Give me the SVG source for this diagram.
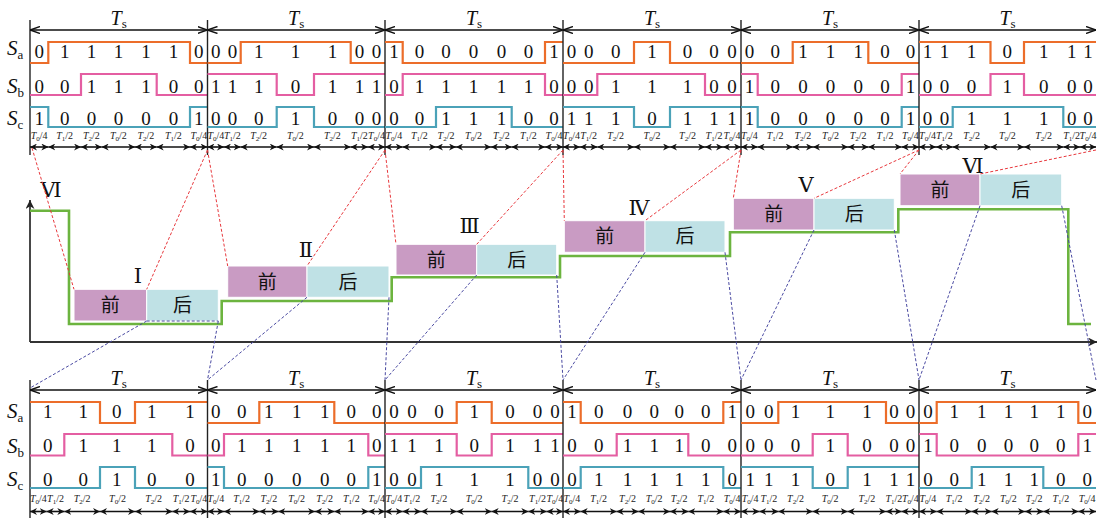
<svg xmlns="http://www.w3.org/2000/svg" width="1098" height="520" viewBox="0 0 1098 520">
<style>
.bg{fill:#fff}
.vl{stroke:#222;stroke-width:1.4}
.ax{stroke:#333;stroke-width:1.8;fill:none}
.sa{stroke:#ec6d2a;stroke-width:2.2;fill:none}
.sb{stroke:#e45ea2;stroke-width:2.2;fill:none}
.sc{stroke:#4ba2b8;stroke-width:2.2;fill:none}
.gr{stroke:#6cb43f;stroke-width:2.6;fill:none}
.tsa{stroke:#111;stroke-width:1.3;marker-start:url(#oa);marker-end:url(#oa)}
.ta{stroke:#111;stroke-width:1.6;marker-start:url(#fa);marker-end:url(#fa)}
.d{font-family:"Liberation Serif",serif;font-size:19px;text-anchor:middle;fill:#111}
.lab{font-family:"Liberation Serif",serif;font-size:21px;fill:#111}
.ts{font-family:"Liberation Serif",serif;font-size:20px;text-anchor:middle;fill:#111}
.tl{font-family:"Liberation Serif",serif;font-size:10px;text-anchor:middle;fill:#222}
.i{font-style:italic}
.sub{font-size:13px}
.sb7{font-size:7px}
.rn{font-family:"Liberation Serif","DejaVu Serif",serif;font-size:21px;text-anchor:middle;fill:#111}
.qian{fill:#c99bc3;stroke:#fff;stroke-width:1}
.hou{fill:#bfe1e5;stroke:#fff;stroke-width:1}
.cj{font-family:"Noto Sans CJK SC",sans-serif;font-size:19px;text-anchor:middle;fill:#111}
.red{stroke:#e8383d;stroke-width:1;stroke-dasharray:3 2;fill:none}
.blu{stroke:#4a4aa2;stroke-width:1;stroke-dasharray:3 2;fill:none}
</style>
<defs>
<marker id="oa" viewBox="0 0 10 8" refX="10" refY="4" markerWidth="10" markerHeight="8" orient="auto-start-reverse" markerUnits="userSpaceOnUse"><path d="M0,0.5 L10,4 L0,7.5" fill="none" stroke="#111" stroke-width="1.4"/></marker>
<marker id="fa" viewBox="0 0 8 8" refX="8" refY="4" markerWidth="7" markerHeight="7" orient="auto-start-reverse" markerUnits="userSpaceOnUse"><path d="M0,0 L8,4 L0,8 L2.5,4 z" fill="#111"/></marker>
<marker id="axa" viewBox="0 0 8 8" refX="8" refY="4" markerWidth="9" markerHeight="9" orient="auto" markerUnits="userSpaceOnUse"><path d="M0,0 L8,4 L0,8 L2.5,4 z" fill="#222"/></marker>
</defs>
<rect class="bg" x="0" y="0" width="1098" height="520"/>

<g id="row-labels">
<text class="lab" x="7" y="55"><tspan class="i">S</tspan><tspan class="sub" dy="4">a</tspan></text>
<text class="lab" x="7" y="92.5"><tspan class="i">S</tspan><tspan class="sub" dy="4">b</tspan></text>
<text class="lab" x="7" y="124.5"><tspan class="i">S</tspan><tspan class="sub" dy="4">c</tspan></text>
<text class="lab" x="7" y="418"><tspan class="i">S</tspan><tspan class="sub" dy="4">a</tspan></text>
<text class="lab" x="7" y="452.5"><tspan class="i">S</tspan><tspan class="sub" dy="4">b</tspan></text>
<text class="lab" x="7" y="486"><tspan class="i">S</tspan><tspan class="sub" dy="4">c</tspan></text>
</g>

<g id="top-p1">
<line class="vl" x1="30" y1="20" x2="30" y2="155"/>
<line class="tsa" x1="30" y1="30" x2="207.5" y2="30"/>
<text class="ts" x="118.7" y="25"><tspan class="i">T</tspan><tspan class="sub" dy="3">s</tspan></text>
<path class="sa" d="M30 63 H48.3 V42 H190 V63 H207.5"/>
<path class="sb" d="M30 95 H81 V74 H156.7 V95 H207.5"/>
<path class="sc" d="M30 107 H48.3 V127 H190 V107 H207.5"/>
<g class="d">
<text x="39.2" y="58">0</text><text x="64.7" y="58">1</text><text x="91.4" y="58">1</text><text x="118.4" y="58">1</text><text x="145.9" y="58">1</text><text x="173.4" y="58">1</text><text x="198.8" y="58">0</text>
<text x="39.2" y="92.5">0</text><text x="64.7" y="92.5">0</text><text x="91.4" y="92.5">1</text><text x="118.4" y="92.5">1</text><text x="145.9" y="92.5">1</text><text x="173.4" y="92.5">0</text><text x="198.8" y="92.5">0</text>
<text x="39.2" y="124.5">1</text><text x="64.7" y="124.5">0</text><text x="91.4" y="124.5">0</text><text x="118.4" y="124.5">0</text><text x="145.9" y="124.5">0</text><text x="173.4" y="124.5">0</text><text x="198.8" y="124.5">1</text>
</g>
<g class="tl">
<text x="39.2" y="139"><tspan class="i">T</tspan><tspan class="sb7" dy="2">0</tspan><tspan dy="-2">/4</tspan></text>
<text x="64.7" y="139"><tspan class="i">T</tspan><tspan class="sb7" dy="2">1</tspan><tspan dy="-2">/2</tspan></text>
<text x="91.4" y="139"><tspan class="i">T</tspan><tspan class="sb7" dy="2">2</tspan><tspan dy="-2">/2</tspan></text>
<text x="118.4" y="139"><tspan class="i">T</tspan><tspan class="sb7" dy="2">0</tspan><tspan dy="-2">/2</tspan></text>
<text x="145.9" y="139"><tspan class="i">T</tspan><tspan class="sb7" dy="2">2</tspan><tspan dy="-2">/2</tspan></text>
<text x="173.4" y="139"><tspan class="i">T</tspan><tspan class="sb7" dy="2">1</tspan><tspan dy="-2">/2</tspan></text>
<text x="198.8" y="139"><tspan class="i">T</tspan><tspan class="sb7" dy="2">0</tspan><tspan dy="-2">/4</tspan></text>
</g>
<line class="ta" x1="30" y1="147" x2="48.3" y2="147"/><line class="ta" x1="48.3" y1="147" x2="81" y2="147"/><line class="ta" x1="81" y1="147" x2="101.7" y2="147"/><line class="ta" x1="101.7" y1="147" x2="135" y2="147"/><line class="ta" x1="135" y1="147" x2="156.7" y2="147"/><line class="ta" x1="156.7" y1="147" x2="190" y2="147"/><line class="ta" x1="190" y1="147" x2="207.5" y2="147"/>
</g>

<g id="top-p2">
<line class="vl" x1="207.5" y1="20" x2="207.5" y2="155"/>
<line class="tsa" x1="207.5" y1="30" x2="385" y2="30"/>
<text class="ts" x="296.2" y="25"><tspan class="i">T</tspan><tspan class="sub" dy="3">s</tspan></text>
<path class="sa" d="M207.5 63 H240.7 V42 H350.7 V63 H385"/>
<path class="sb" d="M207.5 74 H276.7 V95 H314 V74 H385"/>
<path class="sc" d="M207.5 127 H276.7 V107 H314 V127 H385"/>
<g class="d">
<text x="215.8" y="58">0</text><text x="232.4" y="58">0</text><text x="258.7" y="58">1</text><text x="295.4" y="58">1</text><text x="332.4" y="58">1</text><text x="359.4" y="58">0</text><text x="376.5" y="58">0</text>
<text x="215.8" y="92.5">1</text><text x="232.4" y="92.5">1</text><text x="258.7" y="92.5">1</text><text x="295.4" y="92.5">0</text><text x="332.4" y="92.5">1</text><text x="359.4" y="92.5">1</text><text x="376.5" y="92.5">1</text>
<text x="215.8" y="124.5">0</text><text x="232.4" y="124.5">0</text><text x="258.7" y="124.5">0</text><text x="295.4" y="124.5">1</text><text x="332.4" y="124.5">0</text><text x="359.4" y="124.5">0</text><text x="376.5" y="124.5">0</text>
</g>
<g class="tl">
<text x="215.8" y="139"><tspan class="i">T</tspan><tspan class="sb7" dy="2">0</tspan><tspan dy="-2">/4</tspan></text>
<text x="232.4" y="139"><tspan class="i">T</tspan><tspan class="sb7" dy="2">1</tspan><tspan dy="-2">/2</tspan></text>
<text x="258.7" y="139"><tspan class="i">T</tspan><tspan class="sb7" dy="2">2</tspan><tspan dy="-2">/2</tspan></text>
<text x="295.4" y="139"><tspan class="i">T</tspan><tspan class="sb7" dy="2">0</tspan><tspan dy="-2">/2</tspan></text>
<text x="332.4" y="139"><tspan class="i">T</tspan><tspan class="sb7" dy="2">2</tspan><tspan dy="-2">/2</tspan></text>
<text x="359.4" y="139"><tspan class="i">T</tspan><tspan class="sb7" dy="2">1</tspan><tspan dy="-2">/2</tspan></text>
<text x="376.5" y="139"><tspan class="i">T</tspan><tspan class="sb7" dy="2">0</tspan><tspan dy="-2">/4</tspan></text>
</g>
<line class="ta" x1="207.5" y1="147" x2="224" y2="147"/><line class="ta" x1="224" y1="147" x2="240.7" y2="147"/><line class="ta" x1="240.7" y1="147" x2="276.7" y2="147"/><line class="ta" x1="276.7" y1="147" x2="314" y2="147"/><line class="ta" x1="314" y1="147" x2="350.7" y2="147"/><line class="ta" x1="350.7" y1="147" x2="368" y2="147"/><line class="ta" x1="368" y1="147" x2="385" y2="147"/>
</g>

<g id="top-p3">
<line class="vl" x1="385" y1="20" x2="385" y2="155"/>
<line class="tsa" x1="385" y1="30" x2="563" y2="30"/>
<text class="ts" x="474" y="25"><tspan class="i">T</tspan><tspan class="sub" dy="3">s</tspan></text>
<path class="sa" d="M385 42 H402.7 V63 H545 V42 H563"/>
<path class="sb" d="M385 95 H402.7 V74 H545 V95 H563"/>
<path class="sc" d="M385 127 H436 V107 H511.7 V127 H563"/>
<g class="d">
<text x="393.9" y="58">1</text><text x="419.4" y="58">0</text><text x="446" y="58">0</text><text x="473.5" y="58">0</text><text x="501.4" y="58">0</text><text x="528.4" y="58">0</text><text x="554" y="58">1</text>
<text x="393.9" y="92.5">0</text><text x="419.4" y="92.5">1</text><text x="446" y="92.5">1</text><text x="473.5" y="92.5">1</text><text x="501.4" y="92.5">1</text><text x="528.4" y="92.5">1</text><text x="554" y="92.5">0</text>
<text x="393.9" y="124.5">0</text><text x="419.4" y="124.5">0</text><text x="446" y="124.5">1</text><text x="473.5" y="124.5">1</text><text x="501.4" y="124.5">1</text><text x="528.4" y="124.5">0</text><text x="554" y="124.5">0</text>
</g>
<g class="tl">
<text x="393.9" y="139"><tspan class="i">T</tspan><tspan class="sb7" dy="2">0</tspan><tspan dy="-2">/4</tspan></text>
<text x="419.4" y="139"><tspan class="i">T</tspan><tspan class="sb7" dy="2">1</tspan><tspan dy="-2">/2</tspan></text>
<text x="446" y="139"><tspan class="i">T</tspan><tspan class="sb7" dy="2">2</tspan><tspan dy="-2">/2</tspan></text>
<text x="473.5" y="139"><tspan class="i">T</tspan><tspan class="sb7" dy="2">0</tspan><tspan dy="-2">/2</tspan></text>
<text x="501.4" y="139"><tspan class="i">T</tspan><tspan class="sb7" dy="2">2</tspan><tspan dy="-2">/2</tspan></text>
<text x="528.4" y="139"><tspan class="i">T</tspan><tspan class="sb7" dy="2">1</tspan><tspan dy="-2">/2</tspan></text>
<text x="554" y="139"><tspan class="i">T</tspan><tspan class="sb7" dy="2">0</tspan><tspan dy="-2">/4</tspan></text>
</g>
<line class="ta" x1="385" y1="147" x2="402.7" y2="147"/><line class="ta" x1="402.7" y1="147" x2="436" y2="147"/><line class="ta" x1="436" y1="147" x2="456" y2="147"/><line class="ta" x1="456" y1="147" x2="491" y2="147"/><line class="ta" x1="491" y1="147" x2="511.7" y2="147"/><line class="ta" x1="511.7" y1="147" x2="545" y2="147"/><line class="ta" x1="545" y1="147" x2="563" y2="147"/>
</g>

<g id="top-p4">
<line class="vl" x1="563" y1="20" x2="563" y2="155"/>
<line class="tsa" x1="563" y1="30" x2="741" y2="30"/>
<text class="ts" x="652" y="25"><tspan class="i">T</tspan><tspan class="sub" dy="3">s</tspan></text>
<path class="sa" d="M563 63 H634 V42 H670 V63 H741"/>
<path class="sb" d="M563 95 H597.3 V74 H705 V95 H741"/>
<path class="sc" d="M563 107 H634 V127 H670 V107 H741"/>
<g class="d">
<text x="571.5" y="58">0</text><text x="588.7" y="58">0</text><text x="615.7" y="58">0</text><text x="652" y="58">1</text><text x="687.5" y="58">0</text><text x="714" y="58">0</text><text x="732" y="58">0</text>
<text x="571.5" y="92.5">0</text><text x="588.7" y="92.5">0</text><text x="615.7" y="92.5">1</text><text x="652" y="92.5">1</text><text x="687.5" y="92.5">1</text><text x="714" y="92.5">0</text><text x="732" y="92.5">0</text>
<text x="571.5" y="124.5">1</text><text x="588.7" y="124.5">1</text><text x="615.7" y="124.5">1</text><text x="652" y="124.5">0</text><text x="687.5" y="124.5">1</text><text x="714" y="124.5">1</text><text x="732" y="124.5">1</text>
</g>
<g class="tl">
<text x="571.5" y="139"><tspan class="i">T</tspan><tspan class="sb7" dy="2">0</tspan><tspan dy="-2">/4</tspan></text>
<text x="588.7" y="139"><tspan class="i">T</tspan><tspan class="sb7" dy="2">1</tspan><tspan dy="-2">/2</tspan></text>
<text x="615.7" y="139"><tspan class="i">T</tspan><tspan class="sb7" dy="2">2</tspan><tspan dy="-2">/2</tspan></text>
<text x="652" y="139"><tspan class="i">T</tspan><tspan class="sb7" dy="2">0</tspan><tspan dy="-2">/2</tspan></text>
<text x="687.5" y="139"><tspan class="i">T</tspan><tspan class="sb7" dy="2">2</tspan><tspan dy="-2">/2</tspan></text>
<text x="714" y="139"><tspan class="i">T</tspan><tspan class="sb7" dy="2">1</tspan><tspan dy="-2">/2</tspan></text>
<text x="732" y="139"><tspan class="i">T</tspan><tspan class="sb7" dy="2">0</tspan><tspan dy="-2">/4</tspan></text>
</g>
<line class="ta" x1="563" y1="147" x2="580" y2="147"/><line class="ta" x1="580" y1="147" x2="597.3" y2="147"/><line class="ta" x1="597.3" y1="147" x2="634" y2="147"/><line class="ta" x1="634" y1="147" x2="670" y2="147"/><line class="ta" x1="670" y1="147" x2="705" y2="147"/><line class="ta" x1="705" y1="147" x2="723" y2="147"/><line class="ta" x1="723" y1="147" x2="741" y2="147"/>
</g>

<g id="top-p5">
<line class="vl" x1="741" y1="20" x2="741" y2="155"/>
<line class="tsa" x1="741" y1="30" x2="919" y2="30"/>
<text class="ts" x="830" y="25"><tspan class="i">T</tspan><tspan class="sub" dy="3">s</tspan></text>
<path class="sa" d="M741 63 H792.7 V42 H868.3 V63 H919"/>
<path class="sb" d="M741 74 H757.7 V95 H901.7 V74 H919"/>
<path class="sc" d="M741 107 H757.7 V127 H901.7 V107 H919"/>
<g class="d">
<text x="749.4" y="58">0</text><text x="775.2" y="58">0</text><text x="802.9" y="58">1</text><text x="830.5" y="58">1</text><text x="858.2" y="58">1</text><text x="885" y="58">0</text><text x="910.4" y="58">0</text>
<text x="749.4" y="92.5">1</text><text x="775.2" y="92.5">0</text><text x="802.9" y="92.5">0</text><text x="830.5" y="92.5">0</text><text x="858.2" y="92.5">0</text><text x="885" y="92.5">0</text><text x="910.4" y="92.5">1</text>
<text x="749.4" y="124.5">1</text><text x="775.2" y="124.5">0</text><text x="802.9" y="124.5">0</text><text x="830.5" y="124.5">0</text><text x="858.2" y="124.5">0</text><text x="885" y="124.5">0</text><text x="910.4" y="124.5">1</text>
</g>
<g class="tl">
<text x="749.4" y="139"><tspan class="i">T</tspan><tspan class="sb7" dy="2">0</tspan><tspan dy="-2">/4</tspan></text>
<text x="775.2" y="139"><tspan class="i">T</tspan><tspan class="sb7" dy="2">1</tspan><tspan dy="-2">/2</tspan></text>
<text x="802.9" y="139"><tspan class="i">T</tspan><tspan class="sb7" dy="2">2</tspan><tspan dy="-2">/2</tspan></text>
<text x="830.5" y="139"><tspan class="i">T</tspan><tspan class="sb7" dy="2">0</tspan><tspan dy="-2">/2</tspan></text>
<text x="858.2" y="139"><tspan class="i">T</tspan><tspan class="sb7" dy="2">2</tspan><tspan dy="-2">/2</tspan></text>
<text x="885" y="139"><tspan class="i">T</tspan><tspan class="sb7" dy="2">1</tspan><tspan dy="-2">/2</tspan></text>
<text x="910.4" y="139"><tspan class="i">T</tspan><tspan class="sb7" dy="2">0</tspan><tspan dy="-2">/4</tspan></text>
</g>
<line class="ta" x1="741" y1="147" x2="757.7" y2="147"/><line class="ta" x1="757.7" y1="147" x2="792.7" y2="147"/><line class="ta" x1="792.7" y1="147" x2="813" y2="147"/><line class="ta" x1="813" y1="147" x2="848" y2="147"/><line class="ta" x1="848" y1="147" x2="868.3" y2="147"/><line class="ta" x1="868.3" y1="147" x2="901.7" y2="147"/><line class="ta" x1="901.7" y1="147" x2="919" y2="147"/>
</g>

<g id="top-p6">
<line class="vl" x1="919" y1="20" x2="919" y2="155"/>
<line class="tsa" x1="919" y1="30" x2="1096" y2="30"/>
<text class="ts" x="1007.5" y="25"><tspan class="i">T</tspan><tspan class="sub" dy="3">s</tspan></text>
<path class="sa" d="M919 42 H990.5 V63 H1024 V42 H1096"/>
<path class="sb" d="M919 95 H990.5 V74 H1024 V95 H1096"/>
<path class="sc" d="M919 127 H952.7 V107 H1063.3 V127 H1096"/>
<g class="d">
<text x="927.5" y="58">1</text><text x="944.4" y="58">1</text><text x="971.6" y="58">1</text><text x="1007.3" y="58">0</text><text x="1043.7" y="58">1</text><text x="1071.7" y="58">1</text><text x="1088" y="58">1</text>
<text x="927.5" y="92.5">0</text><text x="944.4" y="92.5">0</text><text x="971.6" y="92.5">0</text><text x="1007.3" y="92.5">1</text><text x="1043.7" y="92.5">0</text><text x="1071.7" y="92.5">0</text><text x="1088" y="92.5">0</text>
<text x="927.5" y="124.5">0</text><text x="944.4" y="124.5">0</text><text x="971.6" y="124.5">1</text><text x="1007.3" y="124.5">1</text><text x="1043.7" y="124.5">1</text><text x="1071.7" y="124.5">0</text><text x="1088" y="124.5">0</text>
</g>
<g class="tl">
<text x="927.5" y="139"><tspan class="i">T</tspan><tspan class="sb7" dy="2">0</tspan><tspan dy="-2">/4</tspan></text>
<text x="944.4" y="139"><tspan class="i">T</tspan><tspan class="sb7" dy="2">1</tspan><tspan dy="-2">/2</tspan></text>
<text x="971.6" y="139"><tspan class="i">T</tspan><tspan class="sb7" dy="2">2</tspan><tspan dy="-2">/2</tspan></text>
<text x="1007.3" y="139"><tspan class="i">T</tspan><tspan class="sb7" dy="2">0</tspan><tspan dy="-2">/2</tspan></text>
<text x="1043.7" y="139"><tspan class="i">T</tspan><tspan class="sb7" dy="2">2</tspan><tspan dy="-2">/2</tspan></text>
<text x="1071.7" y="139"><tspan class="i">T</tspan><tspan class="sb7" dy="2">1</tspan><tspan dy="-2">/2</tspan></text>
<text x="1088" y="139"><tspan class="i">T</tspan><tspan class="sb7" dy="2">0</tspan><tspan dy="-2">/4</tspan></text>
</g>
<line class="ta" x1="919" y1="147" x2="936" y2="147"/><line class="ta" x1="936" y1="147" x2="952.7" y2="147"/><line class="ta" x1="952.7" y1="147" x2="990.5" y2="147"/><line class="ta" x1="990.5" y1="147" x2="1024" y2="147"/><line class="ta" x1="1024" y1="147" x2="1063.3" y2="147"/><line class="ta" x1="1063.3" y1="147" x2="1080" y2="147"/><line class="ta" x1="1080" y1="147" x2="1096" y2="147"/>
</g>

<g id="axes">
<line class="ax" x1="30" y1="342" x2="30" y2="200" marker-end="url(#axa)"/>
<line class="ax" x1="30" y1="342" x2="1097" y2="342" marker-end="url(#axa)"/>
<path class="gr" d="M30 210.7 H69 V324 H221.7 V301 H391.7 V277.3 H560 V256 H730 V232.3 H898.3 V209.3 H1068.3 V324 H1091"/>
</g>
<text id="label-vi-left" class="rn" x="51" y="197">Ⅵ</text>

<g id="sector-1">
<rect class="qian" x="74" y="289.3" width="72.7" height="31.7"/>
<rect class="hou" x="146.7" y="289.3" width="71.6" height="31.7"/>
<text class="cj" x="110.3" y="312">前</text>
<text class="cj" x="182.5" y="312">后</text>
<text class="rn" x="138" y="283">Ⅰ</text>
</g>
<g id="sector-2">
<rect class="qian" x="227.7" y="266" width="79.3" height="31.3"/>
<rect class="hou" x="307" y="266" width="82" height="31.3"/>
<text class="cj" x="267.3" y="288.5">前</text>
<text class="cj" x="348" y="288.5">后</text>
<text class="rn" x="306" y="256.7">Ⅱ</text>
</g>
<g id="sector-3">
<rect class="qian" x="396" y="244.3" width="80.7" height="30.7"/>
<rect class="hou" x="476.7" y="244.3" width="80" height="30.7"/>
<text class="cj" x="436.3" y="266.5">前</text>
<text class="cj" x="516.7" y="266.5">后</text>
<text class="rn" x="469.7" y="233">Ⅲ</text>
</g>
<g id="sector-4">
<rect class="qian" x="564.3" y="220.7" width="80.7" height="31.6"/>
<rect class="hou" x="645" y="220.7" width="80" height="31.6"/>
<text class="cj" x="604.7" y="243.3">前</text>
<text class="cj" x="685" y="243.3">后</text>
<text class="rn" x="639" y="215">Ⅳ</text>
</g>
<g id="sector-5">
<rect class="qian" x="733.3" y="198.3" width="80.7" height="31.7"/>
<rect class="hou" x="814" y="198.3" width="80.3" height="31.7"/>
<text class="cj" x="773.7" y="221">前</text>
<text class="cj" x="854.2" y="221">后</text>
<text class="rn" x="806" y="191.7">Ⅴ</text>
</g>
<g id="sector-6">
<rect class="qian" x="900" y="174" width="80" height="31.7"/>
<rect class="hou" x="980" y="174" width="81.7" height="31.7"/>
<text class="cj" x="940" y="196.7">前</text>
<text class="cj" x="1020.8" y="196.7">后</text>
<text class="rn" x="973" y="173">Ⅵ</text>
</g>

<g id="connectors">
<line class="red" x1="32" y1="148" x2="74" y2="289.3"/>
<line class="red" x1="207.5" y1="150" x2="146.7" y2="289.3"/>
<line class="red" x1="207.5" y1="150" x2="227.7" y2="266"/>
<line class="red" x1="385" y1="150" x2="307" y2="266"/>
<line class="red" x1="385" y1="150" x2="396" y2="244.3"/>
<line class="red" x1="563" y1="150" x2="476.7" y2="244.3"/>
<line class="red" x1="563" y1="150" x2="564.3" y2="220.7"/>
<line class="red" x1="741" y1="150" x2="645" y2="220.7"/>
<line class="red" x1="741" y1="150" x2="733.3" y2="198.3"/>
<line class="red" x1="919" y1="150" x2="814" y2="198.3"/>
<line class="red" x1="919" y1="150" x2="900" y2="174"/>
<line class="red" x1="1096" y1="150" x2="980" y2="174"/>
<line class="blu" x1="146.7" y1="321" x2="218.3" y2="321"/>
<line class="blu" x1="146.7" y1="321" x2="30" y2="388"/>
<line class="blu" x1="218.3" y1="321" x2="207.5" y2="380"/>
<line class="blu" x1="307" y1="297.3" x2="207.5" y2="380"/>
<line class="blu" x1="389" y1="297.3" x2="385" y2="380"/>
<line class="blu" x1="476.7" y1="275" x2="385" y2="380"/>
<line class="blu" x1="556.7" y1="275" x2="563" y2="380"/>
<line class="blu" x1="645" y1="252.3" x2="563" y2="380"/>
<line class="blu" x1="725" y1="252.3" x2="741" y2="380"/>
<line class="blu" x1="814" y1="230" x2="741" y2="380"/>
<line class="blu" x1="894.3" y1="230" x2="919" y2="380"/>
<line class="blu" x1="980" y1="205.7" x2="919" y2="380"/>
<line class="blu" x1="1061.7" y1="205.7" x2="1096" y2="380"/>
</g>

<g id="bot-p1">
<line class="vl" x1="30" y1="380" x2="30" y2="518"/>
<line class="tsa" x1="30" y1="390" x2="207.5" y2="390"/>
<text class="ts" x="118.7" y="385"><tspan class="i">T</tspan><tspan class="sub" dy="3">s</tspan></text>
<path class="sa" d="M30 402 H100 V423 H135 V402 H207.5"/>
<path class="sb" d="M30 455.5 H64.3 V434 H172.3 V455.5 H207.5"/>
<path class="sc" d="M30 488 H100 V467 H135 V488 H207.5"/>
<g class="d">
<text x="47.7" y="418">1</text><text x="83.3" y="418">1</text><text x="116.7" y="418">0</text><text x="151.7" y="418">1</text><text x="190" y="418">1</text>
<text x="47.7" y="452">0</text><text x="83.3" y="452">1</text><text x="116.7" y="452">1</text><text x="151.7" y="452">1</text><text x="190" y="452">0</text>
<text x="47.7" y="486">0</text><text x="83.3" y="486">0</text><text x="116.7" y="486">1</text><text x="151.7" y="486">0</text><text x="190" y="486">0</text>
</g>
<g class="tl">
<text x="38.4" y="502"><tspan class="i">T</tspan><tspan class="sb7" dy="2">0</tspan><tspan dy="-2">/4</tspan></text>
<text x="55.5" y="502"><tspan class="i">T</tspan><tspan class="sb7" dy="2">1</tspan><tspan dy="-2">/2</tspan></text>
<text x="82.2" y="502"><tspan class="i">T</tspan><tspan class="sb7" dy="2">2</tspan><tspan dy="-2">/2</tspan></text>
<text x="117.5" y="502"><tspan class="i">T</tspan><tspan class="sb7" dy="2">0</tspan><tspan dy="-2">/2</tspan></text>
<text x="153.7" y="502"><tspan class="i">T</tspan><tspan class="sb7" dy="2">2</tspan><tspan dy="-2">/2</tspan></text>
<text x="181.2" y="502"><tspan class="i">T</tspan><tspan class="sb7" dy="2">1</tspan><tspan dy="-2">/2</tspan></text>
<text x="198.8" y="502"><tspan class="i">T</tspan><tspan class="sb7" dy="2">0</tspan><tspan dy="-2">/4</tspan></text>
</g>
<line class="ta" x1="30" y1="511.5" x2="46.7" y2="511.5"/><line class="ta" x1="46.7" y1="511.5" x2="64.3" y2="511.5"/><line class="ta" x1="64.3" y1="511.5" x2="100" y2="511.5"/><line class="ta" x1="100" y1="511.5" x2="135" y2="511.5"/><line class="ta" x1="135" y1="511.5" x2="172.3" y2="511.5"/><line class="ta" x1="172.3" y1="511.5" x2="190" y2="511.5"/><line class="ta" x1="190" y1="511.5" x2="207.5" y2="511.5"/>
</g>

<g id="bot-p2">
<line class="vl" x1="207.5" y1="380" x2="207.5" y2="518"/>
<line class="tsa" x1="207.5" y1="390" x2="385" y2="390"/>
<text class="ts" x="296.2" y="385"><tspan class="i">T</tspan><tspan class="sub" dy="3">s</tspan></text>
<path class="sa" d="M207.5 423 H259.3 V402 H334.3 V423 H385"/>
<path class="sb" d="M207.5 455.5 H224 V434 H368.3 V455.5 H385"/>
<path class="sc" d="M207.5 467 H224 V488 H368.3 V467 H385"/>
<g class="d">
<text x="215.8" y="418">0</text><text x="241.7" y="418">0</text><text x="268.8" y="418">1</text><text x="296.7" y="418">1</text><text x="324.7" y="418">1</text><text x="351.3" y="418">0</text><text x="376.7" y="418">0</text>
<text x="215.8" y="452">0</text><text x="241.7" y="452">1</text><text x="268.8" y="452">1</text><text x="296.7" y="452">1</text><text x="324.7" y="452">1</text><text x="351.3" y="452">1</text><text x="376.7" y="452">0</text>
<text x="215.8" y="486">1</text><text x="241.7" y="486">0</text><text x="268.8" y="486">0</text><text x="296.7" y="486">0</text><text x="324.7" y="486">0</text><text x="351.3" y="486">0</text><text x="376.7" y="486">1</text>
</g>
<g class="tl">
<text x="215.8" y="502"><tspan class="i">T</tspan><tspan class="sb7" dy="2">0</tspan><tspan dy="-2">/4</tspan></text>
<text x="241.7" y="502"><tspan class="i">T</tspan><tspan class="sb7" dy="2">1</tspan><tspan dy="-2">/2</tspan></text>
<text x="268.8" y="502"><tspan class="i">T</tspan><tspan class="sb7" dy="2">2</tspan><tspan dy="-2">/2</tspan></text>
<text x="296.7" y="502"><tspan class="i">T</tspan><tspan class="sb7" dy="2">0</tspan><tspan dy="-2">/2</tspan></text>
<text x="324.7" y="502"><tspan class="i">T</tspan><tspan class="sb7" dy="2">2</tspan><tspan dy="-2">/2</tspan></text>
<text x="351.3" y="502"><tspan class="i">T</tspan><tspan class="sb7" dy="2">1</tspan><tspan dy="-2">/2</tspan></text>
<text x="376.7" y="502"><tspan class="i">T</tspan><tspan class="sb7" dy="2">0</tspan><tspan dy="-2">/4</tspan></text>
</g>
<line class="ta" x1="207.5" y1="511.5" x2="224" y2="511.5"/><line class="ta" x1="224" y1="511.5" x2="259.3" y2="511.5"/><line class="ta" x1="259.3" y1="511.5" x2="278.3" y2="511.5"/><line class="ta" x1="278.3" y1="511.5" x2="315" y2="511.5"/><line class="ta" x1="315" y1="511.5" x2="334.3" y2="511.5"/><line class="ta" x1="334.3" y1="511.5" x2="368.3" y2="511.5"/><line class="ta" x1="368.3" y1="511.5" x2="385" y2="511.5"/>
</g>

<g id="bot-p3">
<line class="vl" x1="385" y1="380" x2="385" y2="518"/>
<line class="tsa" x1="385" y1="390" x2="563" y2="390"/>
<text class="ts" x="474" y="385"><tspan class="i">T</tspan><tspan class="sub" dy="3">s</tspan></text>
<path class="sa" d="M385 423 H456.7 V402 H491.7 V423 H563"/>
<path class="sb" d="M385 434 H456.7 V455.5 H491.7 V434 H563"/>
<path class="sc" d="M385 488 H421 V467 H528.3 V488 H563"/>
<g class="d">
<text x="393.9" y="418">0</text><text x="411.9" y="418">0</text><text x="438.9" y="418">0</text><text x="474.2" y="418">1</text><text x="510" y="418">0</text><text x="537.5" y="418">0</text><text x="554.9" y="418">0</text>
<text x="393.9" y="452">1</text><text x="411.9" y="452">1</text><text x="438.9" y="452">1</text><text x="474.2" y="452">0</text><text x="510" y="452">1</text><text x="537.5" y="452">1</text><text x="554.9" y="452">1</text>
<text x="393.9" y="486">0</text><text x="411.9" y="486">0</text><text x="438.9" y="486">1</text><text x="474.2" y="486">1</text><text x="510" y="486">1</text><text x="537.5" y="486">0</text><text x="554.9" y="486">0</text>
</g>
<g class="tl">
<text x="393.9" y="502"><tspan class="i">T</tspan><tspan class="sb7" dy="2">0</tspan><tspan dy="-2">/4</tspan></text>
<text x="411.9" y="502"><tspan class="i">T</tspan><tspan class="sb7" dy="2">1</tspan><tspan dy="-2">/2</tspan></text>
<text x="438.9" y="502"><tspan class="i">T</tspan><tspan class="sb7" dy="2">2</tspan><tspan dy="-2">/2</tspan></text>
<text x="474.2" y="502"><tspan class="i">T</tspan><tspan class="sb7" dy="2">0</tspan><tspan dy="-2">/2</tspan></text>
<text x="510" y="502"><tspan class="i">T</tspan><tspan class="sb7" dy="2">2</tspan><tspan dy="-2">/2</tspan></text>
<text x="537.5" y="502"><tspan class="i">T</tspan><tspan class="sb7" dy="2">1</tspan><tspan dy="-2">/2</tspan></text>
<text x="554.9" y="502"><tspan class="i">T</tspan><tspan class="sb7" dy="2">0</tspan><tspan dy="-2">/4</tspan></text>
</g>
<line class="ta" x1="385" y1="511.5" x2="402.7" y2="511.5"/><line class="ta" x1="402.7" y1="511.5" x2="421" y2="511.5"/><line class="ta" x1="421" y1="511.5" x2="456.7" y2="511.5"/><line class="ta" x1="456.7" y1="511.5" x2="491.7" y2="511.5"/><line class="ta" x1="491.7" y1="511.5" x2="528.3" y2="511.5"/><line class="ta" x1="528.3" y1="511.5" x2="546.7" y2="511.5"/><line class="ta" x1="546.7" y1="511.5" x2="563" y2="511.5"/>
</g>

<g id="bot-p4">
<line class="vl" x1="563" y1="380" x2="563" y2="518"/>
<line class="tsa" x1="563" y1="390" x2="741" y2="390"/>
<text class="ts" x="652" y="385"><tspan class="i">T</tspan><tspan class="sub" dy="3">s</tspan></text>
<path class="sa" d="M563 402 H580.7 V423 H723.3 V402 H741"/>
<path class="sb" d="M563 455.5 H616.7 V434 H688.3 V455.5 H741"/>
<path class="sc" d="M563 488 H580.7 V467 H723.3 V488 H741"/>
<g class="d">
<text x="571.9" y="418">1</text><text x="598.7" y="418">0</text><text x="627.5" y="418">0</text><text x="654.2" y="418">0</text><text x="679.2" y="418">0</text><text x="705.8" y="418">0</text><text x="732.2" y="418">1</text>
<text x="571.9" y="452">0</text><text x="598.7" y="452">0</text><text x="627.5" y="452">1</text><text x="654.2" y="452">1</text><text x="679.2" y="452">1</text><text x="705.8" y="452">0</text><text x="732.2" y="452">0</text>
<text x="571.9" y="486">0</text><text x="598.7" y="486">1</text><text x="627.5" y="486">1</text><text x="654.2" y="486">1</text><text x="679.2" y="486">1</text><text x="705.8" y="486">1</text><text x="732.2" y="486">0</text>
</g>
<g class="tl">
<text x="571.9" y="502"><tspan class="i">T</tspan><tspan class="sb7" dy="2">0</tspan><tspan dy="-2">/4</tspan></text>
<text x="598.7" y="502"><tspan class="i">T</tspan><tspan class="sb7" dy="2">1</tspan><tspan dy="-2">/2</tspan></text>
<text x="627.5" y="502"><tspan class="i">T</tspan><tspan class="sb7" dy="2">2</tspan><tspan dy="-2">/2</tspan></text>
<text x="654.2" y="502"><tspan class="i">T</tspan><tspan class="sb7" dy="2">0</tspan><tspan dy="-2">/2</tspan></text>
<text x="679.2" y="502"><tspan class="i">T</tspan><tspan class="sb7" dy="2">2</tspan><tspan dy="-2">/2</tspan></text>
<text x="705.8" y="502"><tspan class="i">T</tspan><tspan class="sb7" dy="2">1</tspan><tspan dy="-2">/2</tspan></text>
<text x="732.2" y="502"><tspan class="i">T</tspan><tspan class="sb7" dy="2">0</tspan><tspan dy="-2">/4</tspan></text>
</g>
<line class="ta" x1="563" y1="511.5" x2="580.7" y2="511.5"/><line class="ta" x1="580.7" y1="511.5" x2="616.7" y2="511.5"/><line class="ta" x1="616.7" y1="511.5" x2="638.3" y2="511.5"/><line class="ta" x1="638.3" y1="511.5" x2="670" y2="511.5"/><line class="ta" x1="670" y1="511.5" x2="688.3" y2="511.5"/><line class="ta" x1="688.3" y1="511.5" x2="723.3" y2="511.5"/><line class="ta" x1="723.3" y1="511.5" x2="741" y2="511.5"/>
</g>

<g id="bot-p5">
<line class="vl" x1="741" y1="380" x2="741" y2="518"/>
<line class="tsa" x1="741" y1="390" x2="919" y2="390"/>
<text class="ts" x="830" y="385"><tspan class="i">T</tspan><tspan class="sub" dy="3">s</tspan></text>
<path class="sa" d="M741 423 H778.3 V402 H886 V423 H919"/>
<path class="sb" d="M741 455.5 H812.7 V434 H847.7 V455.5 H919"/>
<path class="sc" d="M741 467 H812.7 V488 H847.7 V467 H919"/>
<g class="d">
<text x="750.2" y="418">0</text><text x="768.8" y="418">0</text><text x="795.5" y="418">1</text><text x="830.2" y="418">1</text><text x="866.9" y="418">1</text><text x="893.9" y="418">0</text><text x="910.4" y="418">0</text>
<text x="750.2" y="452">0</text><text x="768.8" y="452">0</text><text x="795.5" y="452">0</text><text x="830.2" y="452">1</text><text x="866.9" y="452">0</text><text x="893.9" y="452">0</text><text x="910.4" y="452">0</text>
<text x="750.2" y="486">1</text><text x="768.8" y="486">1</text><text x="795.5" y="486">1</text><text x="830.2" y="486">0</text><text x="866.9" y="486">1</text><text x="893.9" y="486">1</text><text x="910.4" y="486">1</text>
</g>
<g class="tl">
<text x="750.2" y="502"><tspan class="i">T</tspan><tspan class="sb7" dy="2">0</tspan><tspan dy="-2">/4</tspan></text>
<text x="768.8" y="502"><tspan class="i">T</tspan><tspan class="sb7" dy="2">1</tspan><tspan dy="-2">/2</tspan></text>
<text x="795.5" y="502"><tspan class="i">T</tspan><tspan class="sb7" dy="2">2</tspan><tspan dy="-2">/2</tspan></text>
<text x="830.2" y="502"><tspan class="i">T</tspan><tspan class="sb7" dy="2">0</tspan><tspan dy="-2">/2</tspan></text>
<text x="866.9" y="502"><tspan class="i">T</tspan><tspan class="sb7" dy="2">2</tspan><tspan dy="-2">/2</tspan></text>
<text x="893.9" y="502"><tspan class="i">T</tspan><tspan class="sb7" dy="2">1</tspan><tspan dy="-2">/2</tspan></text>
<text x="910.4" y="502"><tspan class="i">T</tspan><tspan class="sb7" dy="2">0</tspan><tspan dy="-2">/4</tspan></text>
</g>
<line class="ta" x1="741" y1="511.5" x2="759.3" y2="511.5"/><line class="ta" x1="759.3" y1="511.5" x2="778.3" y2="511.5"/><line class="ta" x1="778.3" y1="511.5" x2="812.7" y2="511.5"/><line class="ta" x1="812.7" y1="511.5" x2="847.7" y2="511.5"/><line class="ta" x1="847.7" y1="511.5" x2="886" y2="511.5"/><line class="ta" x1="886" y1="511.5" x2="901.7" y2="511.5"/><line class="ta" x1="901.7" y1="511.5" x2="919" y2="511.5"/>
</g>

<g id="bot-p6">
<line class="vl" x1="919" y1="380" x2="919" y2="518"/>
<line class="tsa" x1="919" y1="390" x2="1096" y2="390"/>
<text class="ts" x="1007.5" y="385"><tspan class="i">T</tspan><tspan class="sub" dy="3">s</tspan></text>
<path class="sa" d="M919 423 H936.7 V402 H1078.3 V423 H1096"/>
<path class="sb" d="M919 434 H936.7 V455.5 H1078.3 V434 H1096"/>
<path class="sc" d="M919 488 H971.7 V467 H1043.3 V488 H1096"/>
<g class="d">
<text x="927.9" y="418">0</text><text x="954.2" y="418">1</text><text x="981.7" y="418">1</text><text x="1008.4" y="418">1</text><text x="1034.2" y="418">1</text><text x="1060.8" y="418">1</text><text x="1087.2" y="418">0</text>
<text x="927.9" y="452">1</text><text x="954.2" y="452">0</text><text x="981.7" y="452">0</text><text x="1008.4" y="452">0</text><text x="1034.2" y="452">0</text><text x="1060.8" y="452">0</text><text x="1087.2" y="452">1</text>
<text x="927.9" y="486">0</text><text x="954.2" y="486">0</text><text x="981.7" y="486">1</text><text x="1008.4" y="486">1</text><text x="1034.2" y="486">1</text><text x="1060.8" y="486">0</text><text x="1087.2" y="486">0</text>
</g>
<g class="tl">
<text x="927.9" y="502"><tspan class="i">T</tspan><tspan class="sb7" dy="2">0</tspan><tspan dy="-2">/4</tspan></text>
<text x="954.2" y="502"><tspan class="i">T</tspan><tspan class="sb7" dy="2">1</tspan><tspan dy="-2">/2</tspan></text>
<text x="981.7" y="502"><tspan class="i">T</tspan><tspan class="sb7" dy="2">2</tspan><tspan dy="-2">/2</tspan></text>
<text x="1008.4" y="502"><tspan class="i">T</tspan><tspan class="sb7" dy="2">0</tspan><tspan dy="-2">/2</tspan></text>
<text x="1034.2" y="502"><tspan class="i">T</tspan><tspan class="sb7" dy="2">2</tspan><tspan dy="-2">/2</tspan></text>
<text x="1060.8" y="502"><tspan class="i">T</tspan><tspan class="sb7" dy="2">1</tspan><tspan dy="-2">/2</tspan></text>
<text x="1087.2" y="502"><tspan class="i">T</tspan><tspan class="sb7" dy="2">0</tspan><tspan dy="-2">/4</tspan></text>
</g>
<line class="ta" x1="919" y1="511.5" x2="936.7" y2="511.5"/><line class="ta" x1="936.7" y1="511.5" x2="971.7" y2="511.5"/><line class="ta" x1="971.7" y1="511.5" x2="991.7" y2="511.5"/><line class="ta" x1="991.7" y1="511.5" x2="1025" y2="511.5"/><line class="ta" x1="1025" y1="511.5" x2="1043.3" y2="511.5"/><line class="ta" x1="1043.3" y1="511.5" x2="1078.3" y2="511.5"/><line class="ta" x1="1078.3" y1="511.5" x2="1096" y2="511.5"/>
</g>
</svg>
